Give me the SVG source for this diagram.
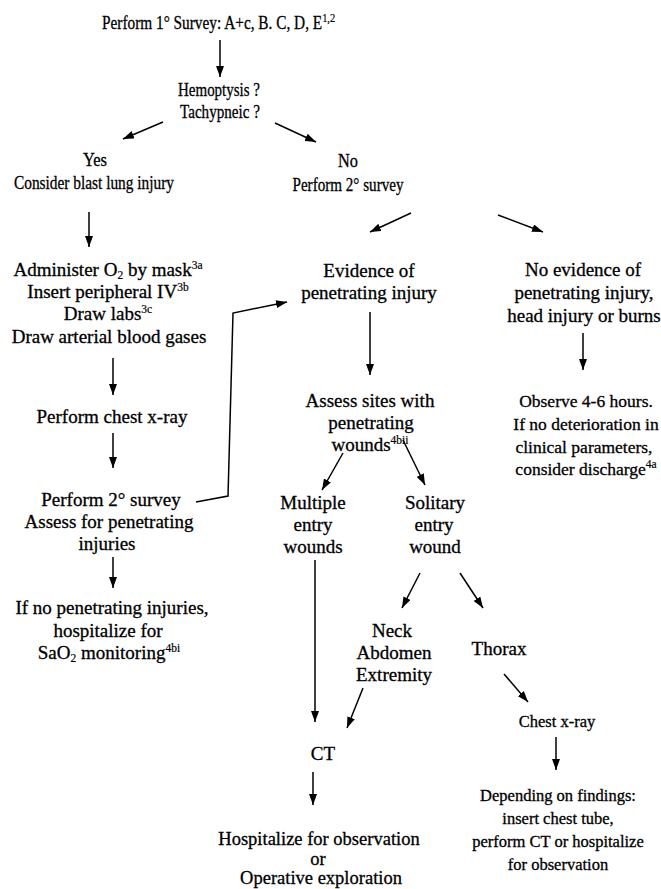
<svg xmlns="http://www.w3.org/2000/svg" width="661" height="889" viewBox="0 0 661 889">
<style>
text{font-family:"Liberation Serif","Times New Roman",serif;font-size:19px;fill:#000;stroke:#000;stroke-width:0.3;text-anchor:middle}
.s{font-size:11.5px;stroke-width:0.2}
.m{font-size:17.5px}
.r{font-size:16.5px}
.b{font-size:18.5px}
.c line,.c polyline{stroke:#000;stroke-width:1.5;fill:none}
</style>
<defs>
<marker id="a" viewBox="0 0 11 8" refX="11" refY="4" markerWidth="11" markerHeight="8" markerUnits="userSpaceOnUse" orient="auto">
<path d="M0,0L11,4L0,8z" fill="#000"/>
</marker>
</defs>
<rect width="661" height="889" fill="#fff"/>
<g id="n1"><text transform="translate(102,29) scale(0.806,1)" style="text-anchor:start">Perform 1° Survey: A+c, B. C, D, E<tspan style="font-size:13px;stroke-width:0.2" dy="-7">1,2</tspan></text></g>
<g id="n2"><text x="219" y="96" textLength="82" lengthAdjust="spacingAndGlyphs">Hemoptysis ?</text><text x="220" y="118" textLength="80" lengthAdjust="spacingAndGlyphs">Tachypneic ?</text></g>
<g id="n3"><text x="95" y="166" textLength="24" lengthAdjust="spacingAndGlyphs">Yes</text><text x="94" y="189" textLength="160" lengthAdjust="spacingAndGlyphs">Consider blast lung injury</text></g>
<g id="n4"><text x="348" y="167" textLength="20" lengthAdjust="spacingAndGlyphs">No</text><text x="348" y="191" textLength="111" lengthAdjust="spacingAndGlyphs">Perform 2° survey</text></g>
<g id="n5">
<text x="108" y="276">Administer O<tspan class="s" dy="3">2</tspan><tspan dy="-3"> by mask</tspan><tspan class="s" dy="-7">3a</tspan></text>
<text x="108" y="298">Insert peripheral IV<tspan class="s" dy="-7">3b</tspan></text>
<text x="108" y="320">Draw labs<tspan class="s" dy="-7">3c</tspan></text>
<text x="109" y="343">Draw arterial blood gases</text>
</g>
<g id="n6"><text x="112" y="423">Perform chest x-ray</text></g>
<g id="n7"><text x="111" y="506">Perform 2° survey</text><text x="109" y="528">Assess for penetrating</text><text x="107" y="550">injuries</text></g>
<g id="n8"><text x="112" y="614">If no penetrating injuries,</text><text x="108" y="637">hospitalize for</text><text x="109" y="659">SaO<tspan class="s" dy="3">2</tspan><tspan dy="-3"> monitoring</tspan><tspan class="s" dy="-7">4bi</tspan></text></g>
<g id="n9"><text x="369" y="277">Evidence of</text><text x="369" y="299">penetrating injury</text></g>
<g id="n10"><text x="583" y="276">No evidence of</text><text x="584" y="299">penetrating injury,</text><text x="584" y="322">head injury or burns</text></g>
<g id="n11"><text x="370" y="407">Assess sites with</text><text x="371" y="429">penetrating</text><text x="370" y="451">wounds<tspan class="s" dy="-7">4bii</tspan></text></g>
<g id="n12"><text x="586" y="407" class="m">Observe 4-6 hours.</text><text x="586" y="430" class="m">If no deterioration in</text><text x="584" y="453" class="m">clinical parameters,</text><text x="586" y="475" class="m">consider discharge<tspan class="s" dy="-7">4a</tspan></text></g>
<g id="n13"><text x="313" y="509">Multiple</text><text x="313" y="531">entry</text><text x="313" y="553">wounds</text></g>
<g id="n14"><text x="435" y="509">Solitary</text><text x="434" y="531">entry</text><text x="435" y="553">wound</text></g>
<g id="n15"><text x="392" y="637">Neck</text><text x="394" y="659">Abdomen</text><text x="394" y="681">Extremity</text></g>
<g id="n16"><text x="499" y="655">Thorax</text></g>
<g id="n17"><text x="557" y="727" class="r">Chest x-ray</text></g>
<g id="n18"><text x="558" y="801" class="r">Depending on findings:</text><text x="558" y="824" class="r">insert chest tube,</text><text x="558" y="847" class="r">perform CT or hospitalize</text><text x="558" y="870" class="r">for observation</text></g>
<g id="n19"><text x="323" y="760">CT</text></g>
<g id="n20"><text x="319" y="845" class="b">Hospitalize for observation</text><text x="318" y="865" class="b">or</text><text x="321" y="884" class="b">Operative exploration</text></g>
<g id="connectors" class="c">
<line x1="220" y1="40" x2="220" y2="77" marker-end="url(#a)"/>
<line x1="163" y1="122" x2="123" y2="139" marker-end="url(#a)"/>
<line x1="275" y1="123" x2="316" y2="142" marker-end="url(#a)"/>
<line x1="89" y1="212" x2="89" y2="247" marker-end="url(#a)"/>
<line x1="411" y1="213" x2="370" y2="232" marker-end="url(#a)"/>
<line x1="498" y1="215" x2="543" y2="232" marker-end="url(#a)"/>
<line x1="113" y1="358" x2="113" y2="395" marker-end="url(#a)"/>
<line x1="113" y1="433" x2="113" y2="468" marker-end="url(#a)"/>
<polyline points="196,502 228,496 233,313 287,302" marker-end="url(#a)"/>
<line x1="113" y1="557" x2="113" y2="588" marker-end="url(#a)"/>
<line x1="370" y1="312" x2="370" y2="375" marker-end="url(#a)"/>
<line x1="583" y1="333" x2="583" y2="370" marker-end="url(#a)"/>
<line x1="343" y1="453" x2="322" y2="490" marker-end="url(#a)"/>
<line x1="403" y1="440" x2="425" y2="485" marker-end="url(#a)"/>
<line x1="315" y1="560" x2="315" y2="722" marker-end="url(#a)"/>
<line x1="420" y1="573" x2="402" y2="608" marker-end="url(#a)"/>
<line x1="460" y1="573" x2="483" y2="608" marker-end="url(#a)"/>
<line x1="363" y1="688" x2="347" y2="728" marker-end="url(#a)"/>
<line x1="504" y1="674" x2="528" y2="702" marker-end="url(#a)"/>
<line x1="556" y1="737" x2="556" y2="770" marker-end="url(#a)"/>
<line x1="313" y1="772" x2="313" y2="805" marker-end="url(#a)"/>
</g>
</svg>
